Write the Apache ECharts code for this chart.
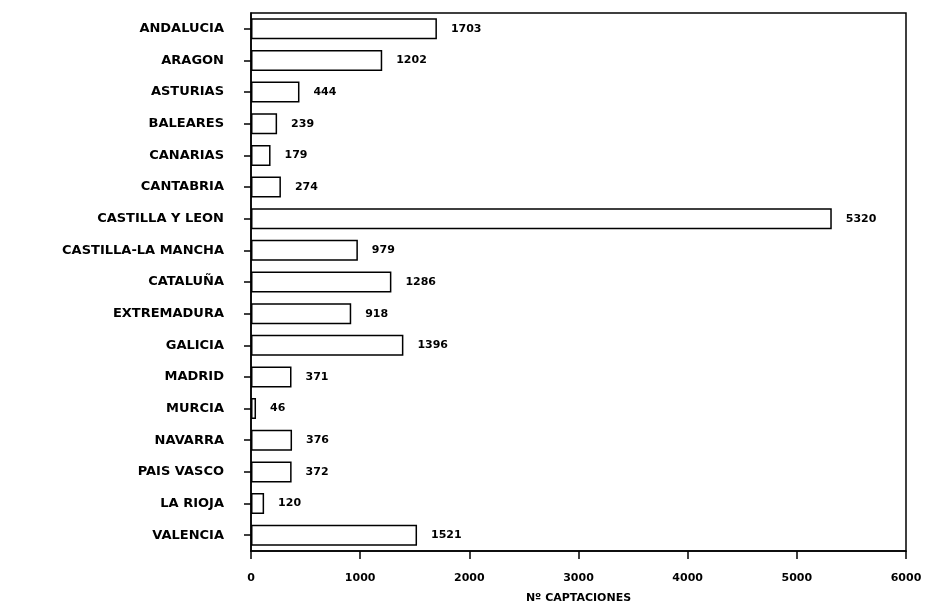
<!DOCTYPE html>
<html>
<head>
<meta charset="utf-8">
<script src="https://cdn.jsdelivr.net/npm/echarts@6/dist/echarts.min.js"></script>
<style>
  html, body { margin: 0; padding: 0; background: #fff; }
  #chart { width: 926px; height: 604px; }
</style>
</head>
<body>
<div id="chart"></div>
<script>
// comunidades autonomas
var regions = ['ANDALUCIA', 'ARAGON', 'ASTURIAS', 'BALEARES', 'CANARIAS', 'CANTABRIA',
  'CASTILLA Y LEON', 'CASTILLA-LA MANCHA', 'CATALUÑA', 'EXTREMADURA', 'GALICIA',
  'MADRID', 'MURCIA', 'NAVARRA', 'PAIS VASCO', 'LA RIOJA', 'VALENCIA'];
// nº captaciones
var captaciones = [1703, 1202, 444, 239, 179, 274, 5320, 979, 1286, 918, 1396, 371, 46, 376, 372, 120, 1521];
var xTicks = [0, 1000, 2000, 3000, 4000, 5000, 6000];

var chart = echarts.init(document.getElementById('chart'));
var font = 'DejaVu Sans';

chart.setOption({
  animation: false,
  grid: {
    left: 251,
    right: 20,
    top: 13,
    bottom: 53,
    outerBoundsMode: 'none',
    containLabel: false,
    show: true,
    borderColor: '#000',
    borderWidth: 1.5
  },
  xAxis: {
    type: 'value',
    min: xTicks[0],
    max: xTicks[xTicks.length - 1],
    interval: 1000,
    name: 'Nº CAPTACIONES',
    nameLocation: 'middle',
    nameGap: 42,
    nameTextStyle: { color: '#000', fontFamily: font, fontWeight: 'bold', fontSize: 11 },
    axisLine: { show: true, lineStyle: { color: '#000', width: 1.5 } },
    axisTick: { show: true, inside: false, length: 8, lineStyle: { color: '#000', width: 1.5 } },
    axisLabel: {
      color: '#000', fontFamily: font, fontWeight: 'bold', fontSize: 11, margin: 22,
      formatter: function (v) { return String(v); }
    },
    splitLine: { show: false }
  },
  yAxis: {
    type: 'category',
    inverse: true,
    data: regions,
    axisLine: { show: true, lineStyle: { color: '#000', width: 1.5 } },
    axisTick: { show: true, alignWithLabel: true, length: 7, lineStyle: { color: '#000', width: 1.5 } },
    axisLabel: { color: '#000', fontFamily: font, fontWeight: 'bold', fontSize: 13, margin: 27 }
  },
  series: [{
    type: 'bar',
    data: captaciones,
    barWidth: 21,
    itemStyle: { color: '#fff', borderColor: '#000', borderWidth: 1.5 },
    label: {
      show: true,
      position: 'right',
      distance: 14,
      color: '#000',
      fontFamily: font,
      fontWeight: 'bold',
      fontSize: 11
    }
  }]
});
</script>
</body>
</html>
